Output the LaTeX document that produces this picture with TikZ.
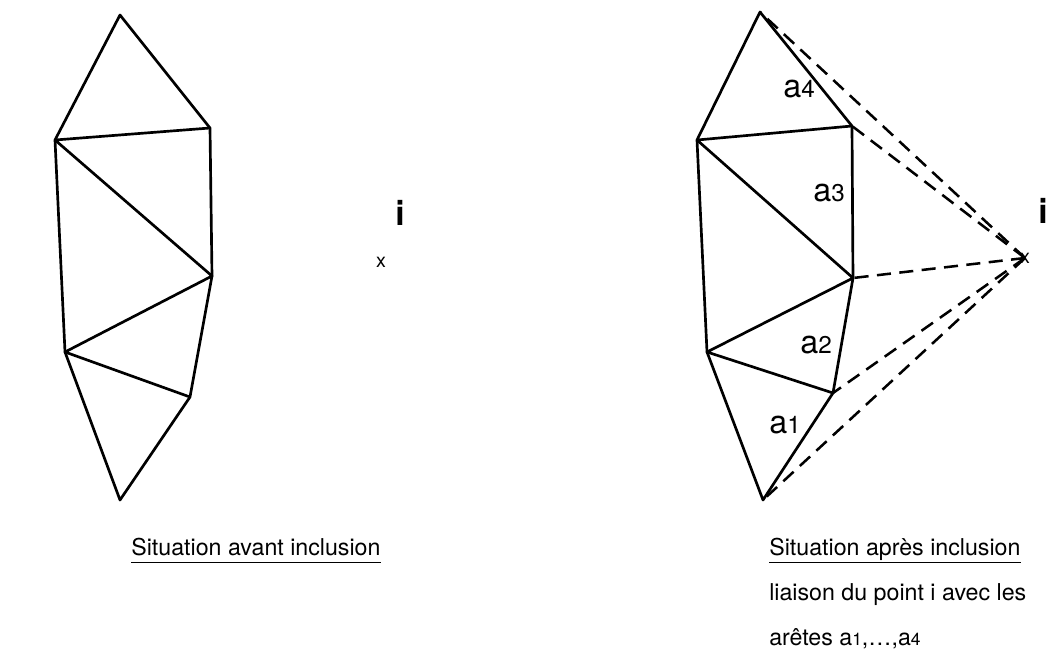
\documentclass[tikz,border=0pt]{standalone}
\usepackage{fontspec,graphicx}
\setmainfont{TeX Gyre Heros}
\usetikzlibrary{calc}
\newcommand\arete[1]{a\scalebox{.75}{#1}}
\tikzset{every node/.style={inner sep=0pt},edge/.style={line width=1.9pt,line join=round},lien/.style={line width=1.8pt,dash pattern=on 10pt off 6pt},legende/.style={anchor=base west,font=\fontsize{16.5}{20}\selectfont},etiq/.style={font=\fontsize{23}{26}\selectfont},nomi/.style={anchor=base,font=\fontsize{24}{28}\selectfont\bfseries},croix/.style={font=\fontsize{14}{16}\selectfont}}

\begin{document}
\begin{tikzpicture}[x=0.025cm,y=-0.025cm]
\useasboundingbox (0,0) rectangle (1048,671);
% avant inclusion
\coordinate (T) at (120,15);\coordinate (UL) at (55,140);\coordinate (UR) at (210,128);\coordinate (MR) at (212,276);
\coordinate (LL) at (65,352);\coordinate (LR) at (190,397);\coordinate (B) at (120,500);
\draw[edge] (T)--(UR)--(MR)--(LR)--(B)--(LL)--(UL)--cycle;
\draw[edge] (UL)--(UR) (UL)--(MR)--(LL)--(LR);
\node[croix] (pi) at (381,262){x};\node[nomi] (li) at (400,225){i};
\node[legende] (c1) at (131,555){Situation avant inclusion};
\draw[line width=.9pt] ([yshift=-5.5pt]c1.base west)--([yshift=-5.5pt]c1.base east);
% apres inclusion
\coordinate (T2) at (760,12);\coordinate (UL2) at (697,140);\coordinate (UR2) at (852,126);\coordinate (MR2) at (853,278);
\coordinate (LL2) at (707,352);\coordinate (LR2) at (833,393);\coordinate (B2) at (763,500);
\draw[edge] (T2)--(UR2)--(MR2)--(LR2)--(B2)--(LL2)--(UL2)--cycle;
\draw[edge] (UL2)--(UR2) (UL2)--(MR2)--(LL2)--(LR2);
\node[croix] (pi2) at (1025,258){x};\node[nomi] (li2) at (1043,223){i};
\foreach \s in {T2,UR2,MR2,LR2,B2}{\draw[lien] (pi2.center)--(\s);}
\node[etiq] (a4) at (799,89){\arete{4}};\node[etiq] (a3) at (829,193){\arete{3}};
\node[etiq] (a2) at (816,345){\arete{2}};\node[etiq] (a1) at (785,425){\arete{1}};
\node[legende] (c2) at (769,555){Situation après inclusion};
\draw[line width=.9pt] ([yshift=-5.5pt]c2.base west)--([yshift=-5.5pt]c2.base east);
\node[legende] (c3) at (769,600){liaison du point i avec les};
\node[legende] (c4) at (769,645){arêtes \arete{1},\dots,\arete{4}};
\end{tikzpicture}
\end{document}
